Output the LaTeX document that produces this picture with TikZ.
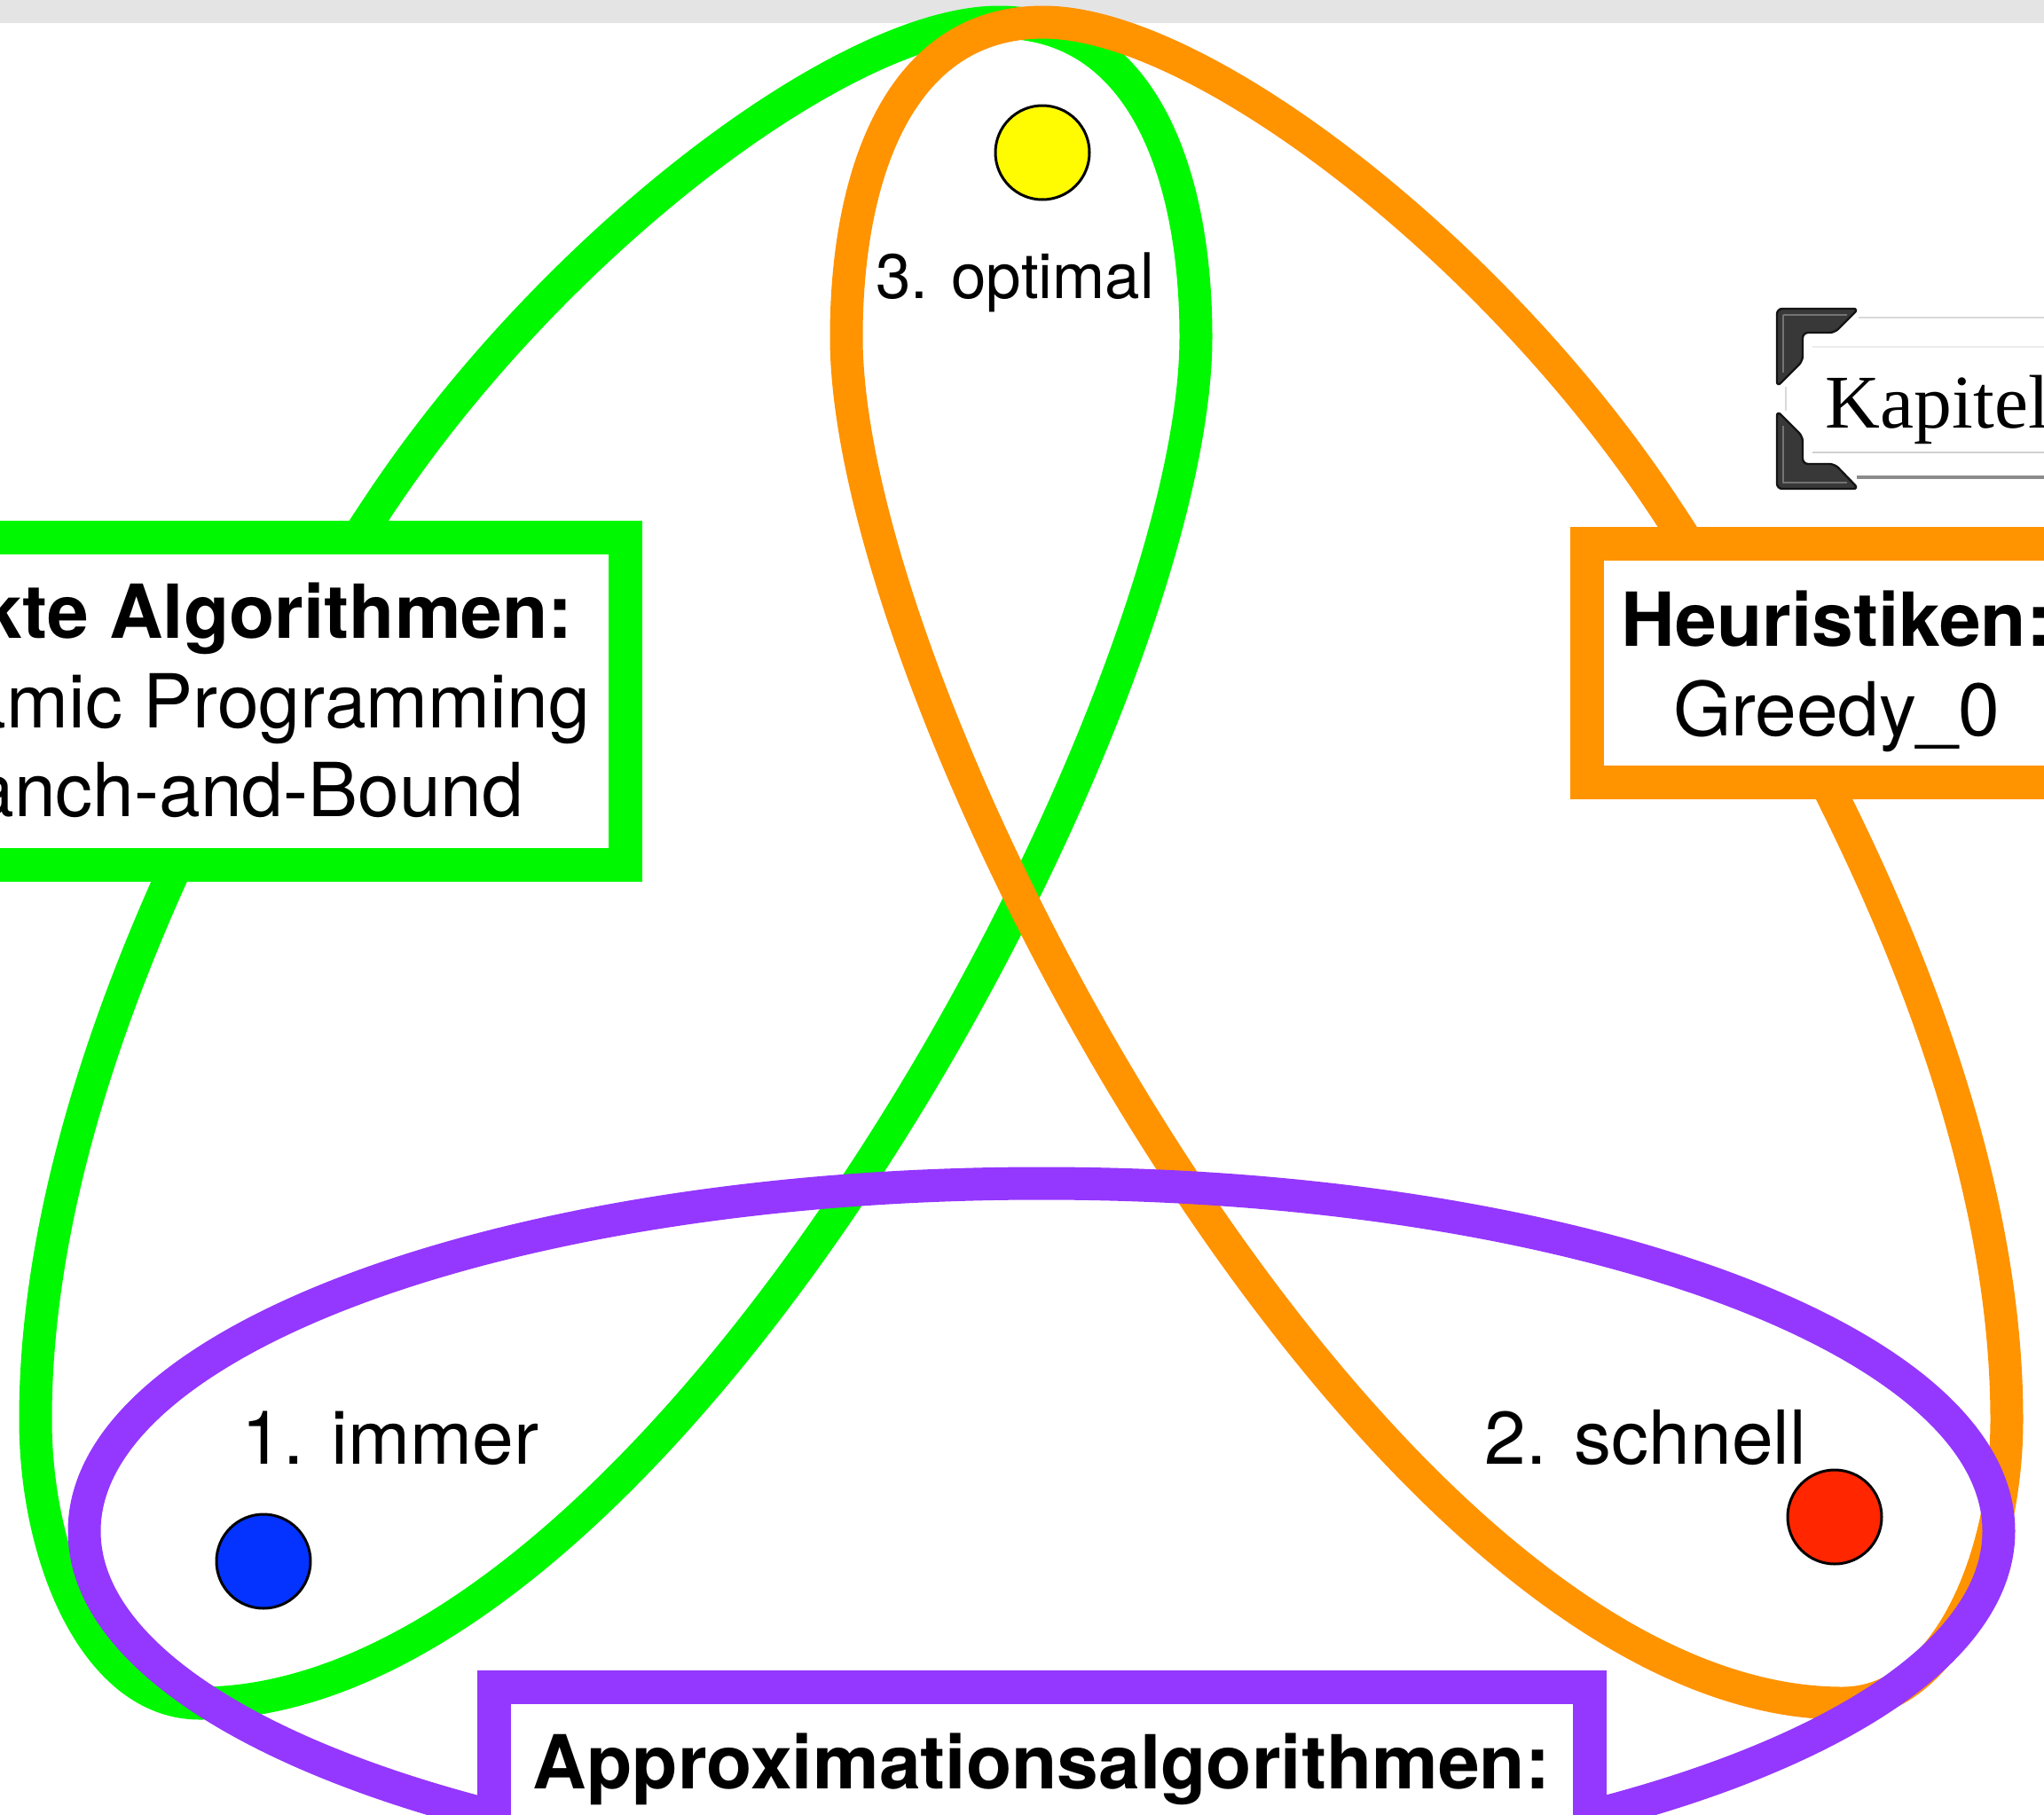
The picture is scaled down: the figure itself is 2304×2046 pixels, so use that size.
\documentclass[tikz,border=0pt]{standalone}
\usepackage{fontspec}
\setmainfont{TeX Gyre Heros}
\newfontfamily\kapfont{Liberation Serif}
\definecolor{kgreen}{HTML}{00F900}
\definecolor{korange}{HTML}{FF9300}
\definecolor{kpurple}{HTML}{9437FF}
\definecolor{kblue}{HTML}{0433FF}
\definecolor{kred}{HTML}{FF2600}
\definecolor{kyellow}{HTML}{FFFB00}
\definecolor{kbar}{HTML}{E4E4E4}
\begin{document}
\begin{tikzpicture}[x=0.25pt, y=-0.25pt,
  loopline/.style={line width=9.25pt, line join=round},
  boxstyle/.style={draw, fill=white, line width=9.5pt, inner sep=0pt},
  lbl/.style={anchor=base, inner sep=0pt, font=\fontsize{21}{25}\selectfont},
  boldlbl/.style={anchor=base, inner sep=0pt, font=\fontsize{21}{25}\selectfont\bfseries},
  dot/.style={circle, draw=black, line width=0.75pt, minimum size=26.5pt, inner sep=0pt},
  bracket/.style={fill=black!78, draw=black!92, line width=0.6pt, rounded corners=1.5pt},
  petal/.pic={\draw[loopline] (427,570)
      .. controls (619,280) and (950,25) .. (1126,25)
      .. controls (1290,25) and (1348,200) .. (1348,380)
      .. controls (1348,800) and (750,1920) .. (225,1920)
      .. controls (110,1920) and (40,1760) .. (40,1600)
      .. controls (40,1250) and (234,860) .. (427,570) -- cycle;}
]
\useasboundingbox (0,0) rectangle (2304,2046);
\clip (0,0) rectangle (2304,2046);
\fill[kbar] (0,0) rectangle (2304,26);

% loops
\pic[color=kgreen] (exaktloop) at (0,0) {petal};
\pic[color=korange, xscale=-1] (heurloop) at (2302,0) {petal};
\draw[loopline, kpurple] (1174,1726) ellipse [x radius=269.75pt, y radius=98pt];

% boxes
\node[boxstyle, draw=kgreen, minimum width=233.5pt, minimum height=92.25pt] (exaktbox) at (238,790.5) {};
\node[boxstyle, draw=korange, minimum width=140.5pt, minimum height=67.25pt] (heurbox) at (2070,747.5) {};
\node[boxstyle, draw=kpurple, minimum width=308.75pt, minimum height=62pt] (approxbox) at (1174.5,2026) {};

% box texts
\node[boldlbl] (exakt1) at (238,719) {Exakte Algorithmen:};
\node[lbl] (exakt2) at (238,820) {Dynamic Programming};
\node[lbl] (exakt3) at (238,920) {Branch-and-Bound};
\node[boldlbl] (heur1) at (2070,728) {Heuristiken:};
\node[lbl] (heur2) at (2070,829) {Greedy\_0};
\node[boldlbl] (approx1) at (1174,2016) {Approximationsalgorithmen:};

% corner labels
\node[anchor=base, inner sep=0pt, font=\fontsize{17.75}{21}\selectfont] (optlbl) at (1144,336) {3. optimal};
\node[lbl] (immerlbl) at (440,1650) {1. immer};
\node[lbl] (schnelllbl) at (1855,1650) {2. schnell};

% dots
\node[dot, fill=kyellow] (optdot) at (1175,172) {};
\node[dot, fill=kblue] (immerdot) at (297,1760) {};
\node[dot, fill=kred] (schnelldot) at (2068,1710) {};

% Kapitel button
\draw[black!15, line width=0.5pt] (2095,358) -- (2304,358);
\draw[black!8, line width=0.5pt] (2043,391) -- (2304,391);
\draw[black!18, line width=0.5pt] (2043,510) -- (2304,510);
\draw[black!45, line width=0.8pt] (2093,538) -- (2304,538);
\draw[black!15, line width=0.5pt] (2013,436) -- (2013,463);
\filldraw[bracket] (2003,348) -- (2095,348) -- (2068,375) -- (2032,375) -- (2032,407) -- (2003,436) -- cycle;
\filldraw[bracket] (2003,463) -- (2032,492) -- (2032,523) -- (2068,523) -- (2095,551) -- (2003,551) -- cycle;
\draw[black!55, line width=0.4pt] (2010,355) -- (2082,355) (2010,355) -- (2010,420);
\draw[black!55, line width=0.4pt] (2010,480) -- (2010,544) -- (2082,544);
\node[anchor=base west, inner sep=0pt, font=\kapfont\fontsize{21.4}{25}\selectfont] (kapitel) at (2057,482) {Kapitel};
\end{tikzpicture}
\end{document}
